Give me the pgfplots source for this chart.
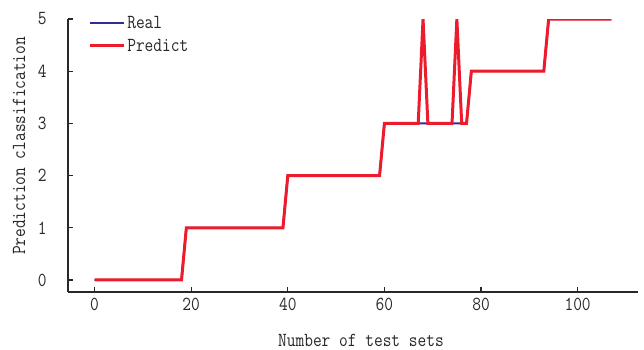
\documentclass[border=0pt]{standalone}
\usepackage{fontspec}
\newfontfamily\lmm{Latin Modern Mono}[FakeStretch=0.85]
\usepackage{pgfplots}
\pgfplotsset{compat=1.18}
\definecolor{realc}{RGB}{45,45,150}
\definecolor{predc}{RGB}{237,28,45}
\definecolor{axc}{RGB}{40,40,40}
\newcommand{\lf}{\lmm\fontsize{20}{22}\selectfont}
\begin{document}
\begin{tikzpicture}
\begin{axis}[
  name=ax,
  scale only axis, width=570bp, height=273bp,
  xmin=-5.5, xmax=112.5, ymin=-0.23, ymax=5,
  axis x line*=bottom, axis y line*=left,
  axis line style={axc, line width=1.4bp},
  xtick={0,20,40,60,80,100}, ytick={0,1,2,3,4,5},
  tick align=inside, major tick length=5bp,
  tick style={axc, line width=1.3bp},
  /pgf/number format/assume math mode=true,
  ticklabel style={font=\lf, text=axc},
  xticklabel style={yshift=-3bp},
  yticklabel style={anchor=east, xshift=-18bp},
  label style={font=\lf, text=axc},
  xlabel={Number of test sets},
  ylabel={Prediction classification},
  xlabel style={at={(axis description cs:0.514,-0.178)}, anchor=center},
  ylabel style={at={(axis description cs:-0.086,0.535)}, anchor=center},
  legend style={at={(axis description cs:0.03,1.025)}, anchor=north west, draw=none, fill=none,
    font=\lf, text=axc, row sep=5bp},
  legend cell align=left,
  legend image code/.code={\draw[#1] (0bp,0bp) -- (34bp,0bp);},
]
\addplot[realc, line width=2bp] coordinates {
(0,0)(18,0)(19,1)(39,1)(40,2)(59,2)(60,3)(77,3)(78,4)(93,4)(94,5)(107,5)};
\addlegendentry{Real}
\addplot[predc, line width=3bp] coordinates {
(0,0)(18,0)(19,1)(39,1)(40,2)(59,2)(60,3)(67,3)(68,5)(69,3)(74,3)(75,5)(76,3)(77,3)(78,4)(93,4)(94,5)(107,5)};
\addlegendentry{Predict}
\end{axis}
\pgfresetboundingbox
\path ([xshift=-68bp,yshift=-58bp]ax.south west) rectangle ([xshift=6bp,yshift=19bp]ax.north east);
\end{tikzpicture}
\end{document}
